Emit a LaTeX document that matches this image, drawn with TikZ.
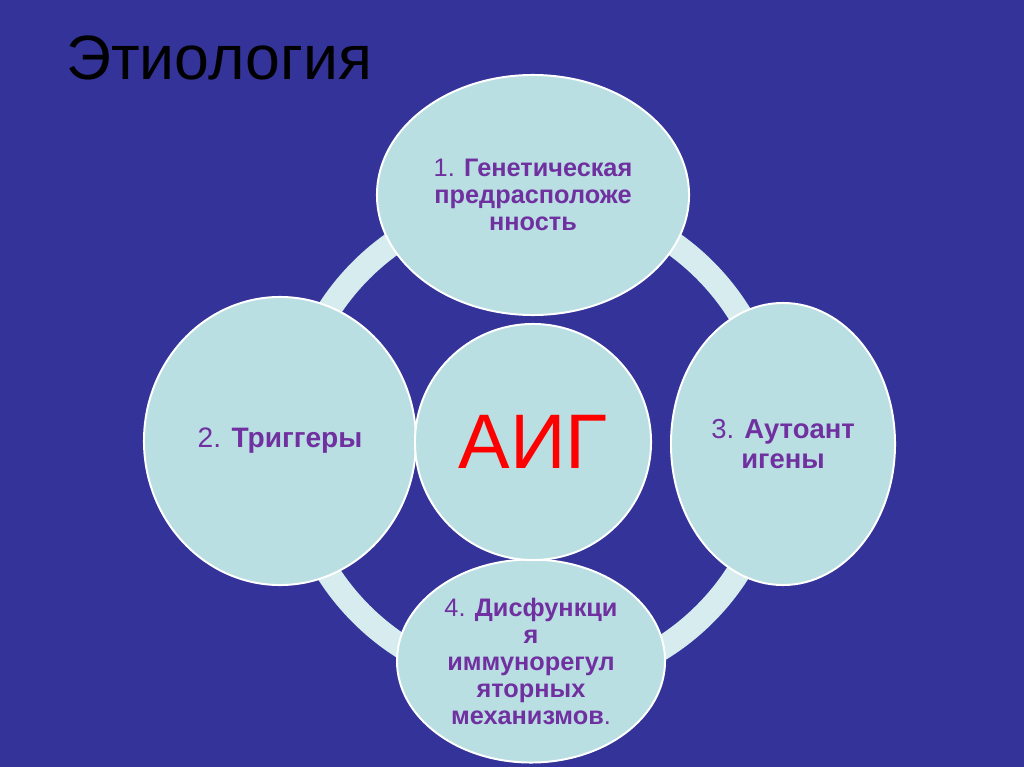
\documentclass[tikz,border=0pt]{standalone}
\usepackage{fontspec}
\setmainfont{Liberation Sans}
\usetikzlibrary{shapes.geometric}
\definecolor{slidebg}{HTML}{333399}
\definecolor{bubblefill}{HTML}{B9DFE3}
\definecolor{ringfill}{HTML}{D7ECEE}
\definecolor{labeltext}{HTML}{7030A0}
\newcommand{\fs}[2]{\fontsize{#1}{#2}\selectfont}
\tikzset{
  bubble/.style={draw=white, line width=1.4pt, fill=bubblefill, ellipse,
    inner sep=0pt, align=center, text=labeltext},
}
\begin{document}
\begin{tikzpicture}[x=0.025cm,y=-0.025cm]
\fill[slidebg] (0,0) rectangle (1024,767);
\useasboundingbox (0,0) rectangle (1024,767);
\node[anchor=base west, inner sep=0pt] (title) at (66,80) {\fs{44.5}{50}Этиология};
\node[circle, draw=ringfill, line width=0.6cm, minimum size=12.15cm] (ring) at (533,442) {};
\node[bubble, minimum width=7.8cm, minimum height=6cm, font=\fs{18}{19}] (1) at (533,195)
  {1. \textbf{Генетическая}\\\textbf{предрасположе}\\\textbf{нность}};
\node[bubble, minimum width=6.8cm, minimum height=7.2cm, font=\fs{20}{21}] (2) at (280,441)
  {2. \textbf{Триггеры}};
\node[bubble, minimum width=5.6cm, minimum height=7.05cm, font=\fs{19.5}{21.3}] (3) at (783,444)
  {3. \textbf{Аутоант}\\\textbf{игены}};
\node[bubble, minimum width=6.7cm, minimum height=5.075cm, font=\fs{18}{19.2}] (4) at (531,661)
  {4. \textbf{Дисфункци}\\\textbf{я}\\\textbf{иммунорегул}\\\textbf{яторных}\\\textbf{механизмов}.};
\node[bubble, circle, minimum size=5.9cm, text=red, font=\fs{55}{60}] (aig) at (533,442) {АИГ};
\end{tikzpicture}
\end{document}
